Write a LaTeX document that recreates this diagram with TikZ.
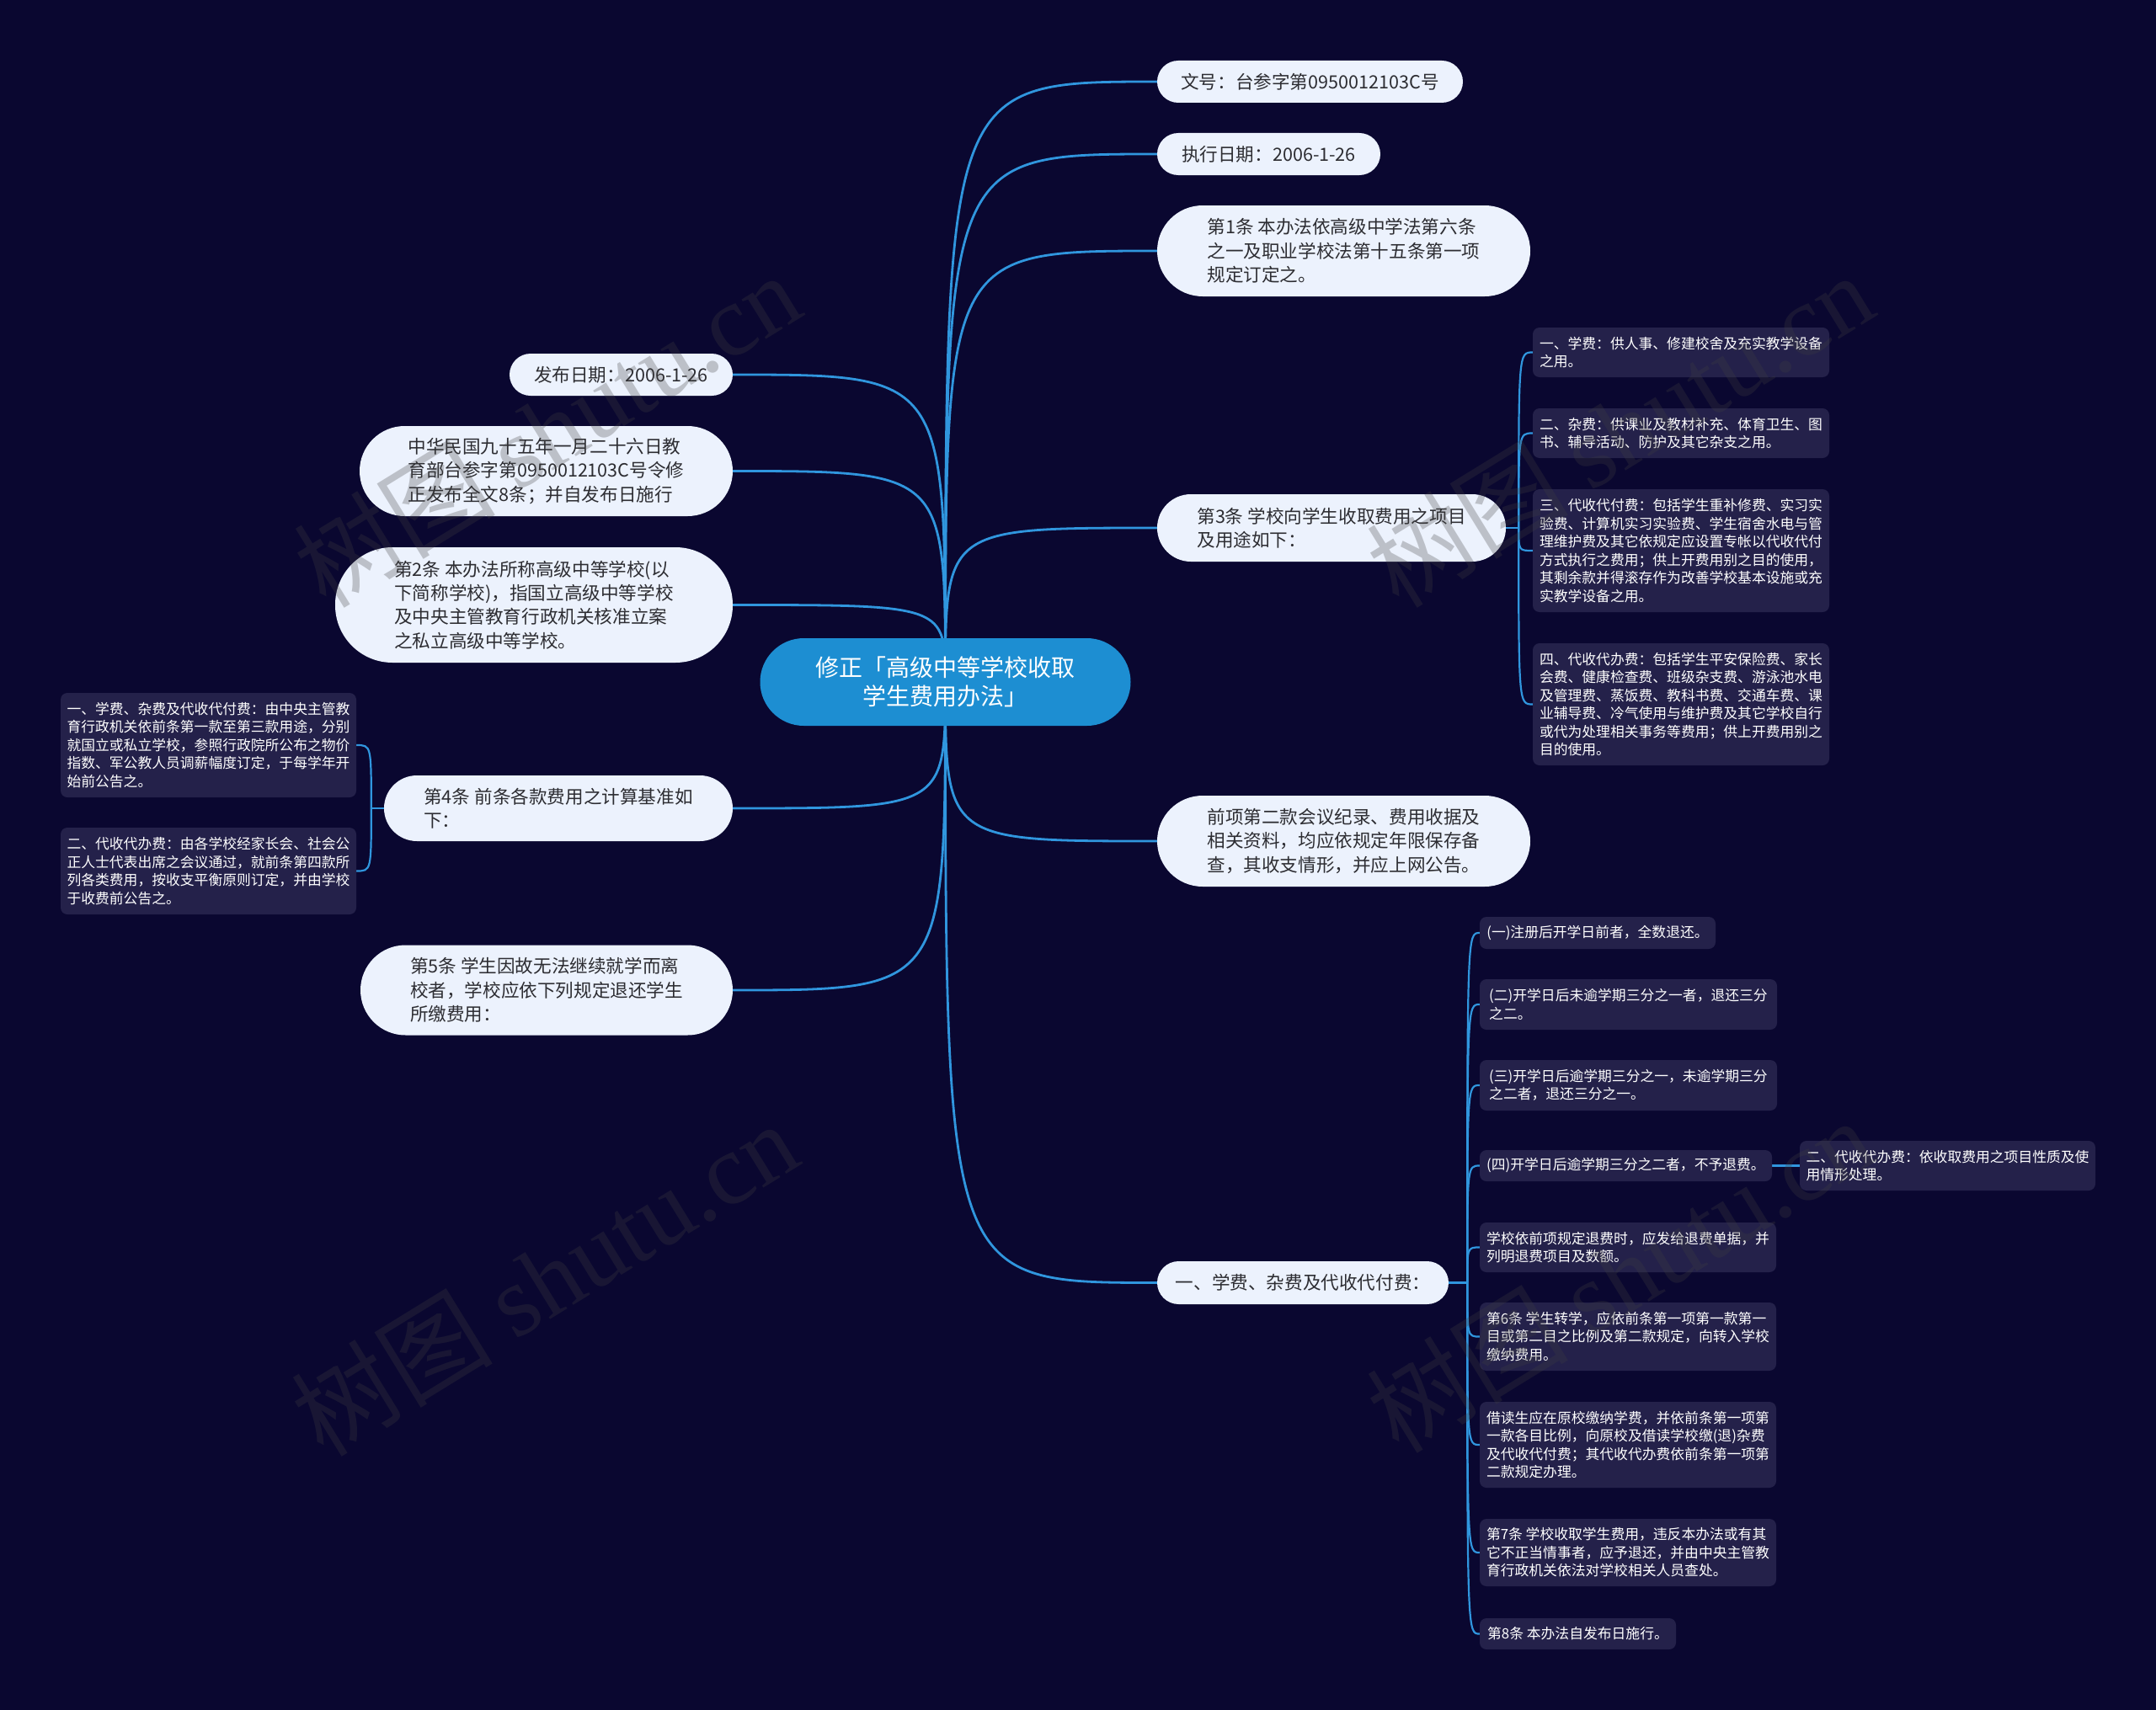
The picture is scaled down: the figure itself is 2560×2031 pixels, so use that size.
\documentclass[tikz,border=0pt]{standalone}
\usepackage{fontspec}
\setmainfont{Noto Sans CJK SC}
\newfontfamily\wmlatin{Liberation Serif}
\definecolor{bgc}{RGB}{10,7,48}
\definecolor{rootc}{RGB}{29,142,210}
\definecolor{linkc}{RGB}{48,150,222}
\definecolor{lonefill}{RGB}{236,242,253}
\definecolor{lonetext}{RGB}{45,45,50}
\definecolor{ltwofill}{RGB}{36,33,74}
\pgfdeclarelayer{bgfill}
\pgfdeclarelayer{links}
\pgfdeclarelayer{wmark}
\pgfsetlayers{bgfill,links,main,wmark}
\tikzset{
  rootnode/.style={fill=rootc, text=white, align=center, inner sep=0pt,
    font=\fontsize{28}{34}\selectfont},
  lone/.style={fill=lonefill, text=lonetext, align=left, inner sep=0pt,
    font=\fontsize{21.6}{28.3}\selectfont},
  ltwo/.style={fill=ltwofill, text=white, align=left, inner sep=0pt,
    rounded corners=8pt, font=\fontsize{16.8}{21.5}\selectfont},
  link/.style={draw=linkc, line width=2.8pt},
  sublink/.style={draw=linkc, line width=2.2pt},
  wmtext/.style={rotate=31.6, text=black!75, opacity=0.28, inner sep=0pt,
    font=\fontsize{120}{120}\selectfont}
}
\begin{document}
\begin{tikzpicture}[x=1pt,y=-1pt]
\useasboundingbox (0,0) rectangle (2560,2031);
\begin{pgfonlayer}{bgfill}
\fill[bgc] (0,0) rectangle (2560,2031);
\end{pgfonlayer}

% root
\node[rootnode, minimum width=440pt, minimum height=104pt, rounded corners=52pt] (R) at (1122.5,810) {修正「高级中等学校收取\\学生费用办法」};

% right level-1
\node[lone, minimum width=363pt, minimum height=50pt, rounded corners=25pt] (N1) at (1555.5,97) {文号：台参字第0950012103C号};
\node[lone, minimum width=265pt, minimum height=50pt, rounded corners=25pt] (N2) at (1506.5,183) {执行日期：2006-1-26};
\node[lone, minimum width=443pt, minimum height=108pt, rounded corners=54pt] (N3) at (1595.5,298) {第1条 本办法依高级中学法第六条\\之一及职业学校法第十五条第一项\\规定订定之。};
\node[lone, minimum width=414pt, minimum height=80pt, rounded corners=40pt] (N4) at (1581,627) {第3条 学校向学生收取费用之项目\\及用途如下：};
\node[lone, minimum width=443pt, minimum height=108pt, rounded corners=54pt] (N5) at (1595.5,999) {前项第二款会议纪录、费用收据及\\相关资料，均应依规定年限保存备\\查，其收支情形，并应上网公告。};
\node[lone, minimum width=346pt, minimum height=51pt, rounded corners=25.5pt] (N6) at (1547,1523.5) {一、学费、杂费及代收代付费：};

% left level-1
\node[lone, minimum width=265pt, minimum height=50pt, rounded corners=25pt] (L1) at (737.5,445) {发布日期：2006-1-26};
\node[lone, minimum width=443pt, minimum height=107pt, rounded corners=53.5pt] (L2) at (648.5,559.5) {中华民国九十五年一月二十六日教\\育部台参字第0950012103C号令修\\正发布全文8条；并自发布日施行};
\node[lone, minimum width=472pt, minimum height=137pt, rounded corners=68pt] (L3) at (634,718.5) {第2条 本办法所称高级中等学校(以\\下简称学校)，指国立高级中等学校\\及中央主管教育行政机关核准立案\\之私立高级中等学校。};
\node[lone, minimum width=414pt, minimum height=78pt, rounded corners=39pt] (L4) at (663,960) {第4条 前条各款费用之计算基准如\\下：};
\node[lone, minimum width=442pt, minimum height=107pt, rounded corners=53.5pt] (L5) at (649,1176) {第5条 学生因故无法继续就学而离\\校者，学校应依下列规定退还学生\\所缴费用：};

% children of N4
\node[ltwo, minimum width=352pt, minimum height=59pt] (C1) at (1996,418.5) {一、学费：供人事、修建校舍及充实教学设备\\之用。};
\node[ltwo, minimum width=352pt, minimum height=59pt] (C2) at (1996,514.5) {二、杂费：供课业及教材补充、体育卫生、图\\书、辅导活动、防护及其它杂支之用。};
\node[ltwo, minimum width=352pt, minimum height=146pt] (C3) at (1996,654) {三、代收代付费：包括学生重补修费、实习实\\验费、计算机实习实验费、学生宿舍水电与管\\理维护费及其它依规定应设置专帐以代收代付\\方式执行之费用；供上开费用别之目的使用，\\其剩余款并得滚存作为改善学校基本设施或充\\实教学设备之用。};
\node[ltwo, minimum width=352pt, minimum height=145pt] (C4) at (1996,836.5) {四、代收代办费：包括学生平安保险费、家长\\会费、健康检查费、班级杂支费、游泳池水电\\及管理费、蒸饭费、教科书费、交通车费、课\\业辅导费、冷气使用与维护费及其它学校自行\\或代为处理相关事务等费用；供上开费用别之\\目的使用。};

% children of L4
\node[ltwo, minimum width=351pt, minimum height=124pt] (LA) at (247.5,885) {一、学费、杂费及代收代付费：由中央主管教\\育行政机关依前条第一款至第三款用途，分别\\就国立或私立学校，参照行政院所公布之物价\\指数、军公教人员调薪幅度订定，于每学年开\\始前公告之。};
\node[ltwo, minimum width=351pt, minimum height=103pt] (LB) at (247.5,1034.5) {二、代收代办费：由各学校经家长会、社会公\\正人士代表出席之会议通过，就前条第四款所\\列各类费用，按收支平衡原则订定，并由学校\\于收费前公告之。};

% children of N6
\node[ltwo, minimum width=280pt, minimum height=38pt] (D1) at (1897,1108) {(一)注册后开学日前者，全数退还。};
\node[ltwo, minimum width=353pt, minimum height=60pt] (D2) at (1933.5,1193) {(二)开学日后未逾学期三分之一者，退还三分\\之二。};
\node[ltwo, minimum width=353pt, minimum height=60pt] (D3) at (1933.5,1289) {(三)开学日后逾学期三分之一，未逾学期三分\\之二者，退还三分之一。};
\node[ltwo, minimum width=347pt, minimum height=37pt] (D4) at (1930.5,1384.5) {(四)开学日后逾学期三分之二者，不予退费。};
\node[ltwo, minimum width=351pt, minimum height=59pt] (E) at (2312.5,1384.5) {二、代收代办费：依收取费用之项目性质及使\\用情形处理。};
\node[ltwo, minimum width=352pt, minimum height=59pt] (D5) at (1933,1481.5) {学校依前项规定退费时，应发给退费单据，并\\列明退费项目及数额。};
\node[ltwo, minimum width=352pt, minimum height=81pt] (D6) at (1933,1587.5) {第6条 学生转学，应依前条第一项第一款第一\\目或第二目之比例及第二款规定，向转入学校\\缴纳费用。};
\node[ltwo, minimum width=352pt, minimum height=102pt] (D7) at (1933,1716) {借读生应在原校缴纳学费，并依前条第一项第\\一款各目比例，向原校及借读学校缴(退)杂费\\及代收代付费；其代收代办费依前条第一项第\\二款规定办理。};
\node[ltwo, minimum width=352pt, minimum height=80pt] (D8) at (1933,1844) {第7条 学校收取学生费用，违反本办法或有其\\它不正当情事者，应予退还，并由中央主管教\\育行政机关依法对学校相关人员查处。};
\node[ltwo, minimum width=233pt, minimum height=37pt] (D9) at (1873.5,1940.5) {第8条 本办法自发布日施行。};

% spine points
\coordinate (N4s) at ([xshift=15pt]N4.east);
\coordinate (L4s) at ([xshift=-15pt]L4.west);
\coordinate (N6s) at ([xshift=22pt]N6.east);

\begin{pgfonlayer}{links}
\foreach \n in {N1,N2,N3,N4,N5,N6}
  \draw[link] (R.center) .. controls (R.center |- \n.west) .. (\n.west);
\foreach \n in {L1,L2,L3,L4,L5}
  \draw[link] (R.center) .. controls (R.center |- \n.east) .. (\n.east);
\draw[sublink] (N4.east) -- (N4s);
\foreach \c in {C1,C2,C3,C4}
  \draw[sublink] (N4s) .. controls (N4s |- \c.west) .. (\c.west);
\draw[sublink] (L4.west) -- (L4s);
\foreach \c in {LA,LB}
  \draw[sublink] (L4s) .. controls (L4s |- \c.east) .. (\c.east);
\draw[sublink] (N6.east) -- (N6s);
\foreach \c in {D1,D2,D3,D4,D5,D6,D7,D8,D9}
  \draw[sublink] (N6s) .. controls (N6s |- \c.west) .. (\c.west);
\draw[sublink] (D4.east) -- (E.west);
\end{pgfonlayer}

\begin{pgfonlayer}{wmark}
\node[wmtext] (W1) at (649,510) {树图 {\wmlatin shutu.cn}};
\node[wmtext] (W2) at (646,1518) {树图 {\wmlatin shutu.cn}};
\node[wmtext] (W3) at (1923,510) {树图 {\wmlatin shutu.cn}};
\node[wmtext] (W4) at (1923,1514) {树图 {\wmlatin shutu.cn}};
\end{pgfonlayer}
\end{tikzpicture}
\end{document}
